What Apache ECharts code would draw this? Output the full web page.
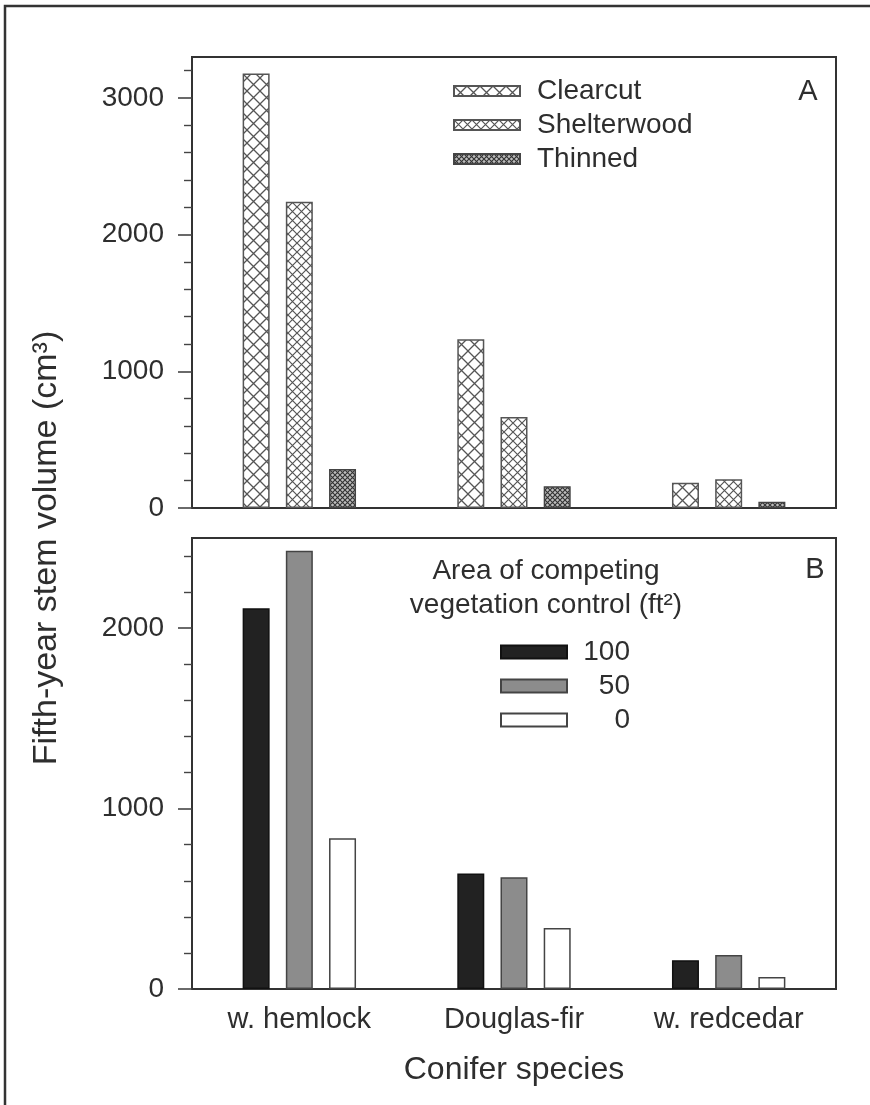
<!DOCTYPE html>
<html>
<head>
<meta charset="utf-8">
<script src="https://cdn.jsdelivr.net/npm/echarts@6/dist/echarts.min.js"></script>
<style>
  html, body { margin: 0; padding: 0; background: #fff; }
  #chart { width: 870px; height: 1105px; }
</style>
</head>
<body>
<div id="chart"></div>
<script>
// Conifer species on the shared category axis
const species = ['w. hemlock', 'Douglas-fir', 'w. redcedar'];

// Panel A: fifth-year stem volume (cm³) by harvest treatment
const harvestNames = ['Clearcut', 'Shelterwood', 'Thinned'];
const clearcut = [3180, 1235, 185];
const shelterwood = [2240, 665, 210];
const thinned = [285, 160, 45];

// Panel B: stem volume by area of competing vegetation control (ft²)
const controlNames = ['100', '50', '0'];
const control100 = [2110, 640, 160];
const control50 = [2430, 620, 188];
const control0 = [835, 338, 66];

// Labelled ticks on each value axis, and axis tops
const yTicksA = [0, 1000, 2000, 3000];
const yTicksB = [0, 1000, 2000];
const yMaxA = 3300;
const yMaxB = 2500;

const INK = '#2e2e2e';
const FONT = '"Liberation Sans", Arial, Helvetica, sans-serif';

// Cross-hatch fill tiles for the harvest treatments
function hatch(size, bg, line, lw) {
  const c = document.createElement('canvas');
  c.width = size; c.height = size;
  const g = c.getContext('2d');
  g.fillStyle = bg;
  g.fillRect(0, 0, size, size);
  g.strokeStyle = line;
  g.lineWidth = lw;
  g.beginPath();
  g.moveTo(0, 0); g.lineTo(size, size);
  g.moveTo(size, 0); g.lineTo(0, size);
  g.stroke();
  return { image: c, repeat: 'repeat' };
}

const fillClearcut = hatch(13, '#ffffff', '#555555', 1.3);
const fillShelter = hatch(9, '#ffffff', '#555555', 1.2);
const fillThinned = hatch(5, '#bdbdbd', '#333333', 1.1);

const chart = echarts.init(document.getElementById('chart'), null, { renderer: 'canvas' });

function valueAxis(gridIndex, max, ticks) {
  return {
    type: 'value',
    gridIndex: gridIndex,
    min: 0,
    max: max,
    interval: 1000,
    axisLine: { show: true, lineStyle: { color: '#333', width: 2 } },
    axisTick: {
      show: true, inside: false, length: 14, customValues: ticks,
      lineStyle: { color: '#444', width: 1.6 }
    },
    minorTick: {
      show: true, splitNumber: 5, length: 8,
      lineStyle: { color: '#444', width: 1.4 }
    },
    axisLabel: {
      customValues: ticks, margin: 28,
      fontSize: 28, color: INK, fontFamily: FONT,
      formatter: function (v) { return String(v); }
    },
    splitLine: { show: false },
    minorSplitLine: { show: false }
  };
}

function catAxis(gridIndex, showLabels) {
  return {
    type: 'category',
    gridIndex: gridIndex,
    data: species,
    boundaryGap: true,
    axisLine: { show: true, lineStyle: { color: '#333', width: 2 } },
    axisTick: { show: false },
    axisLabel: {
      show: showLabels, margin: 16,
      fontSize: 29, color: INK, fontFamily: FONT
    },
    splitLine: { show: false }
  };
}

function barSeries(name, axisIdx, data, color, border) {
  return {
    name: name,
    type: 'bar',
    xAxisIndex: axisIdx,
    yAxisIndex: axisIdx,
    data: data,
    barWidth: 27,
    barGap: '60%',
    itemStyle: { color: color, borderColor: border, borderWidth: 1.5 },
    emphasis: { disabled: true },
    animation: false
  };
}

const option = {
  backgroundColor: '#ffffff',
  animation: false,
  textStyle: { fontFamily: FONT },
  grid: [
    { left: 192, top: 57, width: 644, height: 451, show: true,
      borderColor: '#333', borderWidth: 2, backgroundColor: 'transparent',
      outerBoundsMode: 'none' },
    { left: 192, top: 538, width: 644, height: 451, show: true,
      borderColor: '#333', borderWidth: 2, backgroundColor: 'transparent',
      outerBoundsMode: 'none' }
  ],
  xAxis: [catAxis(0, false), catAxis(1, true)],
  yAxis: [valueAxis(0, yMaxA, yTicksA), valueAxis(1, yMaxB, yTicksB)],
  legend: [
    {
      data: harvestNames,
      orient: 'vertical',
      left: 453, top: 76,
      padding: 0,
      itemWidth: 66, itemHeight: 10, itemGap: 4,
      icon: 'rect',
      selectedMode: false,
      textStyle: { fontSize: 28, lineHeight: 30, color: INK, fontFamily: FONT,
                   padding: [0, 0, 0, 12] }
    },
    {
      data: controlNames,
      orient: 'vertical',
      left: 500, top: 637,
      padding: 0,
      itemWidth: 66, itemHeight: 13, itemGap: 4,
      icon: 'rect',
      selectedMode: false,
      formatter: function (name) { return '{r|' + name + '}'; },
      textStyle: {
        fontSize: 28, lineHeight: 30, color: INK, fontFamily: FONT,
        rich: { r: { width: 58, align: 'right', fontSize: 28, lineHeight: 30,
                     color: INK, fontFamily: FONT } }
      }
    }
  ],
  series: [
    barSeries('Clearcut', 0, clearcut, fillClearcut, '#555'),
    barSeries('Shelterwood', 0, shelterwood, fillShelter, '#555'),
    barSeries('Thinned', 0, thinned, fillThinned, '#444'),
    barSeries('100', 1, control100, '#222222', '#111'),
    barSeries('50', 1, control50, '#8c8c8c', '#444'),
    barSeries('0', 1, control0, '#ffffff', '#444')
  ],
  graphic: [
    // page frame along the top and left edges
    { type: 'polyline', silent: true,
      shape: { points: [[5, 1105], [5, 6], [870, 6]] },
      style: { stroke: '#333', lineWidth: 2.5, fill: null } },
    // shared value-axis title
    { type: 'text', silent: true, x: 47, y: 548, rotation: Math.PI / 2,
      style: { text: 'Fifth-year stem volume (cm³)', font: '34px ' + FONT,
               fill: INK, textAlign: 'center', textVerticalAlign: 'middle' } },
    // category-axis title
    { type: 'text', silent: true, x: 514, y: 1070,
      style: { text: 'Conifer species', font: '32px ' + FONT,
               fill: INK, textAlign: 'center', textVerticalAlign: 'middle' } },
    // panel letters
    { type: 'text', silent: true, x: 808, y: 92,
      style: { text: 'A', font: '29px ' + FONT, fill: INK,
               textAlign: 'center', textVerticalAlign: 'middle' } },
    { type: 'text', silent: true, x: 815, y: 570,
      style: { text: 'B', font: '29px ' + FONT, fill: INK,
               textAlign: 'center', textVerticalAlign: 'middle' } },
    // legend heading for panel B
    { type: 'text', silent: true, x: 546, y: 588,
      style: { text: 'Area of competing\nvegetation control (ft²)', font: '28px ' + FONT,
               lineHeight: 34, fill: INK, textAlign: 'center', textVerticalAlign: 'middle' } }
  ]
};

chart.setOption(option);
</script>
</body>
</html>
